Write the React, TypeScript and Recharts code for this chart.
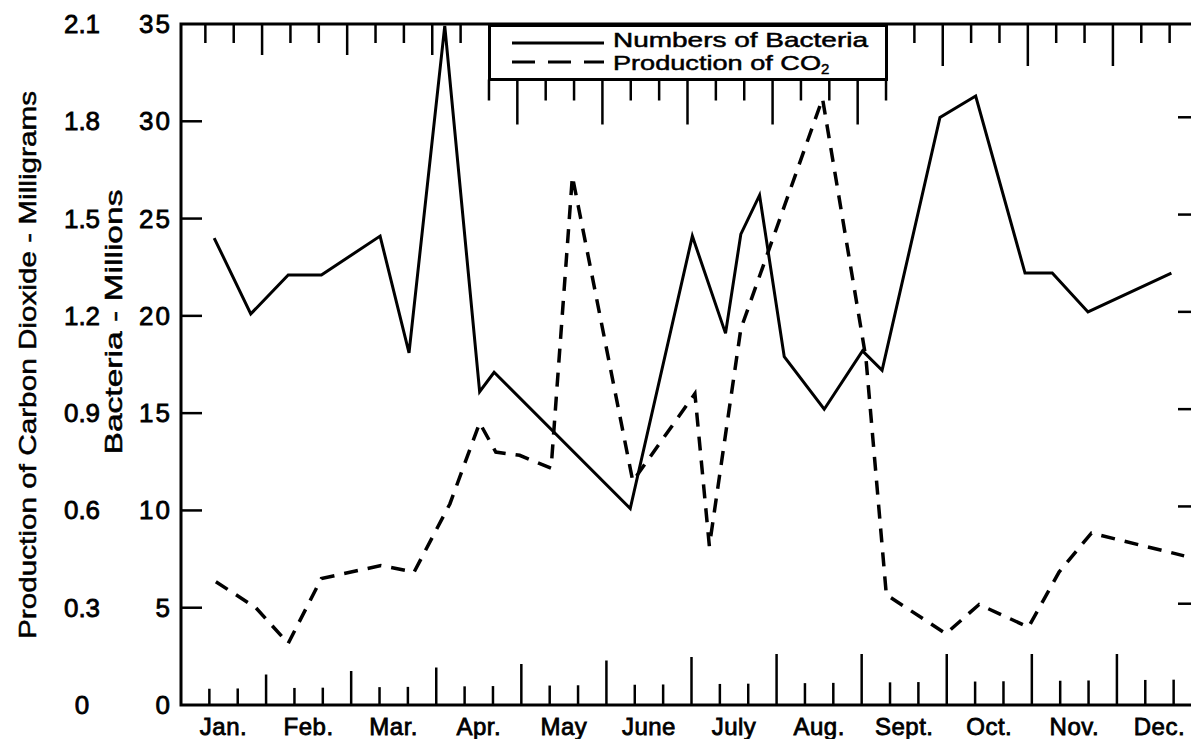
import React from 'react';
import { LineChart, Line, XAxis, YAxis, Legend } from 'recharts';

// month labels sit under the middle of each month
const monthLabels = ['Jan.', 'Feb.', 'Mar.', 'Apr.', 'May', 'June', 'July', 'Aug.', 'Sept.', 'Oct.', 'Nov.', 'Dec.'];
const bacteriaTicks = [0, 5, 10, 15, 20, 25, 30, 35];
const co2Ticks = [0, 0.3, 0.6, 0.9, 1.2, 1.5, 1.8, 2.1];

// sample dates, in months from Jan. 1
const bacteriaMonth = [0.39, 0.82, 1.26, 1.65, 2.34, 2.68, 3.1, 3.51, 3.68, 5.28, 6.01, 6.4, 6.58, 6.8, 7.09, 7.56, 8.01, 8.24, 8.92, 9.34, 9.92, 10.24, 10.66, 11.64];
const bacteriaMillions = [24.0, 20.1, 22.1, 22.1, 24.1, 18.1, 34.9, 16.1, 17.1, 10.1, 24.1, 19.1, 24.2, 26.2, 17.9, 15.2, 18.2, 17.2, 30.2, 31.3, 22.2, 22.2, 20.2, 22.2];

const co2Month = [0.41, 0.88, 1.26, 1.65, 2.35, 2.74, 3.16, 3.51, 3.7, 3.98, 4.35, 4.6, 5.31, 6.04, 6.21, 6.58, 7.54, 8.05, 8.29, 8.99, 9.38, 9.96, 10.32, 10.7, 11.79];
const co2Milligrams = [0.38, 0.3, 0.19, 0.39, 0.43, 0.41, 0.62, 0.87, 0.78, 0.77, 0.73, 1.63, 0.69, 0.96, 0.49, 1.16, 1.87, 1.07, 0.34, 0.22, 0.31, 0.24, 0.41, 0.53, 0.46];

const legendItems = [
    { label: 'Numbers of Bacteria', sub: '', dash: undefined as string | undefined, width: 255 },
    { label: 'Production of CO', sub: '2', dash: '23 13', width: 208 },
];

const bacteriaData = bacteriaMonth.map((month, i) => ({ month, value: bacteriaMillions[i] }));
const co2Data = co2Month.map((month, i) => ({ month, value: co2Milligrams[i] }));

// ten-day division marks and month centres
const tenDayTicks = Array.from({ length: 35 }, (_, i) => (i + 1) / 3);
const monthCenters = monthLabels.map((_, i) => i + 0.5);

const W = 1230;
const H = 739;
const PLOT_LEFT = 181;
const PLOT_TOP = 24;
const PLOT_BOTTOM = 705;
const PLOT_RIGHT = 1202;
const TOP_SHIFT = -4; // the top row of marks sits a little left of the bottom row
const LEGEND_LEFT = 491.5 + TOP_SHIFT;
const LEGEND_W = 400;
const LEGEND_H = 57;
const LEGEND_BOTTOM = PLOT_TOP + LEGEND_H - 1.5;

const FONT = '"Liberation Sans", Arial, sans-serif';
const INK = '#000';

// bottom marks point up, top marks hang down (below the legend box where it covers the edge)
const MonthTick = (props: any) => {
    const { x, payload } = props;
    const v = payload.value as number;
    const k = Math.round(v * 3);
    if (Math.abs(v * 3 - k) > 0.01) {
        return (
            <text x={x} y={PLOT_BOTTOM + 30} textAnchor="middle" fontFamily={FONT} fontSize={24} letterSpacing={0.5}
                fill={INK} stroke={INK} strokeWidth={0.8}>
                {monthLabels[Math.floor(v)]}
            </text>
        );
    }
    const isMonth = k % 3 === 0;
    const lenBottom = isMonth ? Math.min(51, 27 + v * 3.5) : Math.min(27, 16 + v * 0.8);
    const underLegend = k >= 11 && k <= 25;
    const top0 = underLegend ? LEGEND_BOTTOM : PLOT_TOP;
    const lenTop = underLegend ? (isMonth ? 45 : 21) : isMonth ? (k < 11 ? 31 : 42) : 19;
    const tx = x + TOP_SHIFT;
    return (
        <g>
            <line x1={x} x2={x} y1={PLOT_BOTTOM} y2={PLOT_BOTTOM - lenBottom} stroke={INK} strokeWidth={2.5} />
            <line x1={tx} x2={tx} y1={top0} y2={top0 + lenTop} stroke={INK} strokeWidth={2.5} />
        </g>
    );
};

const BacteriaTick = (props: any) => {
    const { y, payload } = props;
    const v = payload.value as number;
    const inner = v > 0 && v < 35;
    return (
        <g>
            {v === 0 && (
                <rect x={PLOT_LEFT} y={PLOT_TOP} width={PLOT_RIGHT - PLOT_LEFT} height={PLOT_BOTTOM - PLOT_TOP}
                    fill="none" stroke={INK} strokeWidth={3} />
            )}
            <text x={172} y={y} textAnchor="end" dominantBaseline="central" fontFamily={FONT} fontSize={26}
                letterSpacing={2} fill={INK} stroke={INK} strokeWidth={0.8}>
                {v}
            </text>
            {inner && <line x1={PLOT_LEFT} x2={PLOT_LEFT + 21} y1={y} y2={y} stroke={INK} strokeWidth={2.5} />}
            {inner && <line x1={PLOT_RIGHT - 24} x2={PLOT_RIGHT} y1={y - 4} y2={y - 4} stroke={INK} strokeWidth={2.5} />}
        </g>
    );
};

const Co2Tick = (props: any) => {
    const { y, payload } = props;
    const v = payload.value as number;
    return (
        <text x={82} y={y} textAnchor="middle" dominantBaseline="central" fontFamily={FONT} fontSize={26}
            fill={INK} stroke={INK} strokeWidth={0.8}>
            {v === 0 ? '0' : v.toFixed(1)}
        </text>
    );
};

const AxisTitle = ({ x, y, text, length }: { x: number; y: number; text: string; length: number }) => (
    <text x={x} y={y} transform={`rotate(-90 ${x} ${y})`} textAnchor="middle" dominantBaseline="central"
        fontFamily={FONT} fontSize={24} fill={INK} stroke={INK} strokeWidth={0.5}
        textLength={length} lengthAdjust="spacingAndGlyphs">
        {text}
    </text>
);

const LegendBox = () => (
    <svg width={LEGEND_W} height={LEGEND_H} style={{ display: 'block' }}>
        <rect x={0} y={0} width={LEGEND_W} height={LEGEND_H} fill="#fff" />
        <line x1={0} x2={LEGEND_W} y1={1.5} y2={1.5} stroke={INK} strokeWidth={3} />
        <line x1={1.5} x2={1.5} y1={0} y2={LEGEND_H} stroke={INK} strokeWidth={3} />
        <line x1={LEGEND_W - 1.5} x2={LEGEND_W - 1.5} y1={0} y2={LEGEND_H} stroke={INK} strokeWidth={3} />
        <line x1={0} x2={LEGEND_W} y1={LEGEND_H - 1.5} y2={LEGEND_H - 1.5} stroke={INK} strokeWidth={3} />
        {legendItems.map((item, i) => {
            const cy = 19 + i * 19;
            return (
                <g key={item.label}>
                    <line x1={24} x2={116} y1={cy} y2={cy} stroke={INK} strokeWidth={3} strokeDasharray={item.dash} />
                    <text x={125} y={23 + i * 23} fontFamily={FONT} fontSize={21} fill={INK} stroke={INK} strokeWidth={0.5}>
                        <tspan textLength={item.width} lengthAdjust="spacingAndGlyphs">{item.label}</tspan>
                        {item.sub && <tspan fontSize={15} dy={4}>{item.sub}</tspan>}
                    </text>
                </g>
            );
        })}
    </svg>
);

export default function App() {
    return (
        <div style={{ position: 'fixed', left: 0, top: 0, width: 1191, height: 739, overflow: 'hidden', background: '#fff' }}>
            <LineChart width={W} height={H} margin={{ top: PLOT_TOP, right: W - PLOT_RIGHT, bottom: 0, left: 0 }}>
                <XAxis xAxisId="bottom" dataKey="month" type="number" domain={[0, 12]}
                    ticks={[...tenDayTicks, ...monthCenters]} interval={0} height={H - PLOT_BOTTOM}
                    axisLine={false} tickLine={false} tick={<MonthTick />} />
                <YAxis yAxisId="co2" type="number" domain={[0, 2.1]} ticks={co2Ticks} interval={0} width={90}
                    axisLine={false} tickLine={false} tick={<Co2Tick />}
                    label={{ content: () => <AxisTitle x={27} y={365} length={548} text="Production of Carbon Dioxide - Milligrams" /> }} />
                <YAxis yAxisId="bac" type="number" domain={[0, 35]} ticks={bacteriaTicks} interval={0} width={PLOT_LEFT - 90}
                    axisLine={false} tickLine={false} tick={<BacteriaTick />}
                    label={{ content: () => <AxisTitle x={113} y={322} length={265} text="Bacteria - Millions" /> }} />
                <Legend verticalAlign="middle" align="center" layout="horizontal" content={<LegendBox />}
                    wrapperStyle={{ left: LEGEND_LEFT, top: PLOT_TOP, width: LEGEND_W, height: LEGEND_H }} />
                <Line xAxisId="bottom" yAxisId="bac" data={bacteriaData} dataKey="value" name="Numbers of Bacteria"
                    type="linear" stroke={INK} strokeWidth={3} dot={false} isAnimationActive={false} />
                <Line xAxisId="bottom" yAxisId="co2" data={co2Data} dataKey="value" name="Production of CO2"
                    type="linear" stroke={INK} strokeWidth={3.5} strokeDasharray="14 10" dot={false} isAnimationActive={false} />
            </LineChart>
        </div>
    );
}
